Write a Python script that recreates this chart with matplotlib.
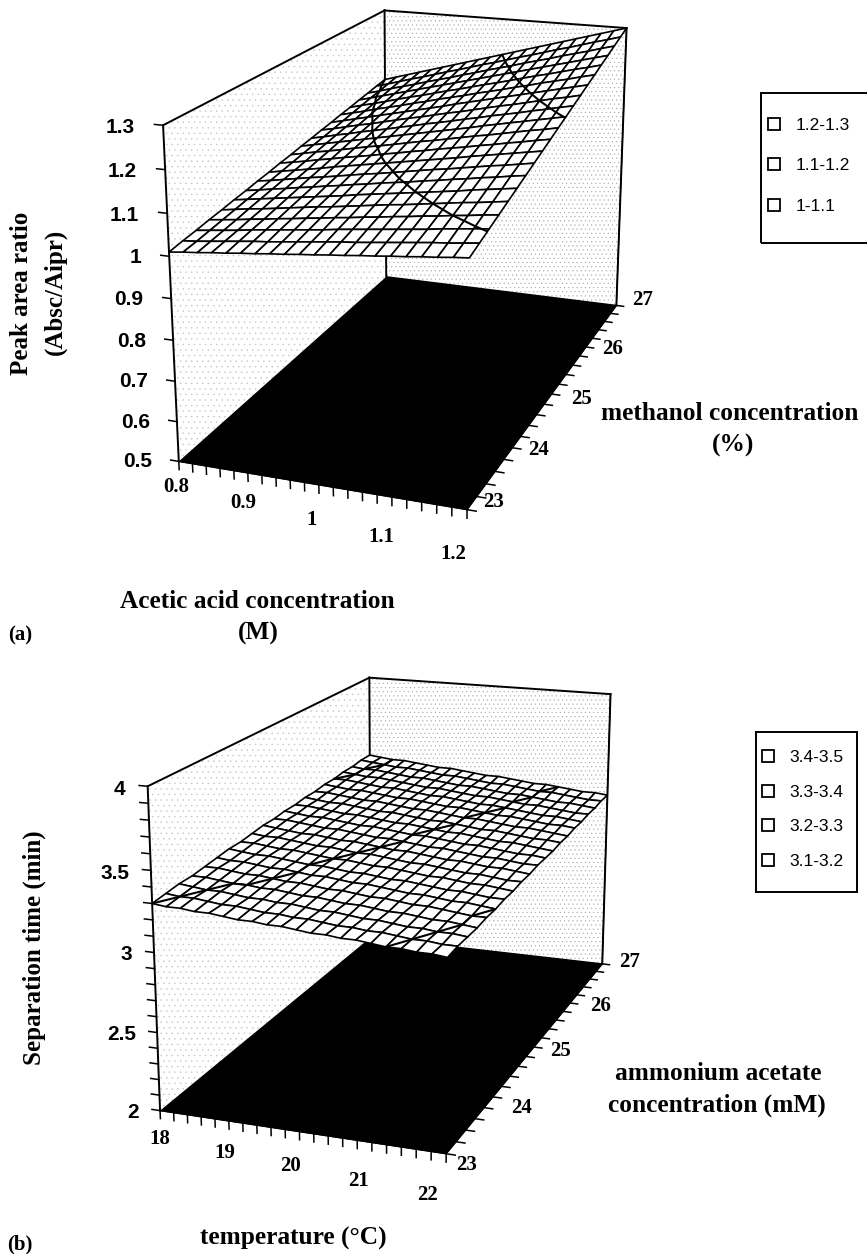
import numpy as np
import matplotlib
matplotlib.use('Agg')
import matplotlib.pyplot as plt
from matplotlib.axes import Axes
from matplotlib.lines import Line2D
from matplotlib.patches import Rectangle
from mpl_toolkits.mplot3d import proj3d

SANS = 'Liberation Sans'
SERIF = 'Liberation Serif'

# panel (a)
acid = np.round(np.arange(0.8, 1.2001, 0.02), 2)
methanol = np.round(np.arange(23, 27.001, 0.2), 1)
acid_labels = [0.8, 0.9, 1, 1.1, 1.2]
methanol_labels = [23, 24, 25, 26, 27]
ratio_labels = [0.5, 0.6, 0.7, 0.8, 0.9, 1, 1.1, 1.2, 1.3]
ratio_levels = [1.1, 1.2]
ratio_legend = ['1.2-1.3', '1.1-1.2', '1-1.1']
ratio = [
    [1.010,1.014,1.017,1.021,1.024,1.028,1.031,1.035,1.038,1.042,1.045,1.049,1.052,1.056,1.059,1.063,1.066,1.070,1.073,1.077,1.080],
    [1.015,1.018,1.022,1.026,1.030,1.034,1.037,1.041,1.045,1.049,1.053,1.057,1.060,1.064,1.068,1.072,1.076,1.080,1.083,1.087,1.091],
    [1.019,1.023,1.027,1.031,1.036,1.040,1.044,1.048,1.052,1.056,1.061,1.065,1.069,1.073,1.077,1.081,1.085,1.090,1.094,1.098,1.102],
    [1.024,1.028,1.032,1.037,1.041,1.046,1.050,1.055,1.059,1.064,1.068,1.073,1.077,1.082,1.086,1.091,1.095,1.100,1.104,1.109,1.113],
    [1.028,1.033,1.038,1.042,1.047,1.052,1.057,1.062,1.066,1.071,1.076,1.081,1.086,1.090,1.095,1.100,1.105,1.110,1.114,1.119,1.124],
    [1.033,1.038,1.043,1.048,1.053,1.058,1.063,1.068,1.073,1.079,1.084,1.089,1.094,1.099,1.104,1.109,1.114,1.120,1.125,1.130,1.135],
    [1.037,1.042,1.048,1.053,1.059,1.064,1.070,1.075,1.081,1.086,1.092,1.097,1.102,1.108,1.113,1.119,1.124,1.130,1.135,1.141,1.146],
    [1.042,1.047,1.053,1.059,1.065,1.070,1.076,1.082,1.088,1.093,1.099,1.105,1.111,1.117,1.122,1.128,1.134,1.140,1.145,1.151,1.157],
    [1.046,1.052,1.058,1.064,1.070,1.077,1.083,1.089,1.095,1.101,1.107,1.113,1.119,1.125,1.131,1.138,1.144,1.150,1.156,1.162,1.168],
    [1.051,1.057,1.063,1.070,1.076,1.083,1.089,1.095,1.102,1.108,1.115,1.121,1.128,1.134,1.140,1.147,1.153,1.160,1.166,1.173,1.179],
    [1.055,1.062,1.069,1.075,1.082,1.089,1.096,1.102,1.109,1.116,1.123,1.129,1.136,1.143,1.150,1.156,1.163,1.170,1.177,1.183,1.190],
    [1.060,1.067,1.074,1.081,1.088,1.095,1.102,1.109,1.116,1.123,1.130,1.137,1.144,1.151,1.159,1.166,1.173,1.180,1.187,1.194,1.201],
    [1.064,1.071,1.079,1.086,1.094,1.101,1.108,1.116,1.123,1.131,1.138,1.145,1.153,1.160,1.168,1.175,1.182,1.190,1.197,1.205,1.212],
    [1.069,1.076,1.084,1.092,1.099,1.107,1.115,1.123,1.130,1.138,1.146,1.153,1.161,1.169,1.177,1.184,1.192,1.200,1.208,1.215,1.223],
    [1.073,1.081,1.089,1.097,1.105,1.113,1.121,1.129,1.137,1.145,1.154,1.162,1.170,1.178,1.186,1.194,1.202,1.210,1.218,1.226,1.234],
    [1.078,1.086,1.094,1.103,1.111,1.119,1.128,1.136,1.145,1.153,1.161,1.170,1.178,1.186,1.195,1.203,1.212,1.220,1.228,1.237,1.245],
    [1.082,1.091,1.099,1.108,1.117,1.126,1.134,1.143,1.152,1.160,1.169,1.178,1.186,1.195,1.204,1.213,1.221,1.230,1.239,1.247,1.256],
    [1.087,1.096,1.105,1.114,1.123,1.132,1.141,1.150,1.159,1.168,1.177,1.186,1.195,1.204,1.213,1.222,1.231,1.240,1.249,1.258,1.267],
    [1.091,1.100,1.110,1.119,1.128,1.138,1.147,1.156,1.166,1.175,1.185,1.194,1.203,1.213,1.222,1.231,1.241,1.250,1.259,1.269,1.278],
    [1.096,1.105,1.115,1.125,1.134,1.144,1.154,1.163,1.173,1.183,1.192,1.202,1.212,1.221,1.231,1.241,1.250,1.260,1.270,1.279,1.289],
    [1.100,1.110,1.120,1.130,1.140,1.150,1.160,1.170,1.180,1.190,1.200,1.210,1.220,1.230,1.240,1.250,1.260,1.270,1.280,1.290,1.300],
]

# panel (b)
temperature = np.round(np.arange(18, 22.001, 0.2), 1)
ammonium = np.round(np.arange(23, 27.001, 0.2), 1)
temperature_labels = [18, 19, 20, 21, 22]
ammonium_labels = [23, 24, 25, 26, 27]
time_labels = [2, 2.5, 3, 3.5, 4]
time_levels = [3.2, 3.3, 3.4]
time_legend = ['3.4-3.5', '3.3-3.4', '3.2-3.3', '3.1-3.2']
sep_time = [
    [3.30,3.29,3.29,3.28,3.28,3.27,3.26,3.26,3.25,3.25,3.24,3.23,3.23,3.22,3.22,3.21,3.20,3.20,3.19,3.19,3.18],
    [3.31,3.30,3.30,3.29,3.28,3.28,3.27,3.26,3.26,3.25,3.25,3.24,3.23,3.23,3.22,3.22,3.21,3.20,3.20,3.19,3.19],
    [3.32,3.31,3.30,3.30,3.29,3.28,3.28,3.27,3.27,3.26,3.25,3.25,3.24,3.23,3.23,3.22,3.21,3.21,3.20,3.20,3.19],
    [3.32,3.32,3.31,3.30,3.30,3.29,3.29,3.28,3.27,3.27,3.26,3.25,3.25,3.24,3.23,3.23,3.22,3.21,3.21,3.20,3.19],
    [3.33,3.33,3.32,3.31,3.31,3.30,3.29,3.29,3.28,3.27,3.27,3.26,3.25,3.25,3.24,3.23,3.23,3.22,3.21,3.20,3.20],
    [3.34,3.33,3.33,3.32,3.31,3.31,3.30,3.29,3.29,3.28,3.27,3.27,3.26,3.25,3.24,3.24,3.23,3.22,3.22,3.21,3.20],
    [3.35,3.34,3.33,3.33,3.32,3.31,3.30,3.30,3.29,3.28,3.28,3.27,3.26,3.26,3.25,3.24,3.23,3.23,3.22,3.21,3.21],
    [3.35,3.35,3.34,3.33,3.33,3.32,3.31,3.30,3.30,3.29,3.28,3.28,3.27,3.26,3.25,3.25,3.24,3.23,3.23,3.22,3.21],
    [3.36,3.35,3.35,3.34,3.33,3.32,3.32,3.31,3.30,3.30,3.29,3.28,3.27,3.27,3.26,3.25,3.24,3.24,3.23,3.22,3.22],
    [3.37,3.36,3.35,3.34,3.34,3.33,3.32,3.32,3.31,3.30,3.29,3.29,3.28,3.27,3.26,3.26,3.25,3.24,3.24,3.23,3.22],
    [3.37,3.37,3.36,3.35,3.34,3.34,3.33,3.32,3.31,3.31,3.30,3.29,3.28,3.28,3.27,3.26,3.25,3.25,3.24,3.23,3.23],
    [3.38,3.37,3.36,3.36,3.35,3.34,3.33,3.33,3.32,3.31,3.30,3.30,3.29,3.28,3.27,3.27,3.26,3.25,3.24,3.24,3.23],
    [3.38,3.38,3.37,3.36,3.35,3.35,3.34,3.33,3.32,3.32,3.31,3.30,3.29,3.29,3.28,3.27,3.26,3.26,3.25,3.24,3.23],
    [3.39,3.38,3.37,3.37,3.36,3.35,3.34,3.34,3.33,3.32,3.31,3.31,3.30,3.29,3.28,3.28,3.27,3.26,3.25,3.25,3.24],
    [3.39,3.39,3.38,3.37,3.36,3.36,3.35,3.34,3.33,3.33,3.32,3.31,3.30,3.30,3.29,3.28,3.27,3.27,3.26,3.25,3.24],
    [3.40,3.39,3.38,3.38,3.37,3.36,3.35,3.35,3.34,3.33,3.32,3.32,3.31,3.30,3.29,3.29,3.28,3.27,3.26,3.26,3.25],
    [3.40,3.40,3.39,3.38,3.37,3.37,3.36,3.35,3.34,3.34,3.33,3.32,3.31,3.31,3.30,3.29,3.28,3.27,3.27,3.26,3.25],
    [3.41,3.40,3.39,3.39,3.38,3.37,3.36,3.35,3.35,3.34,3.33,3.32,3.32,3.31,3.30,3.29,3.29,3.28,3.27,3.26,3.26],
    [3.41,3.40,3.40,3.39,3.38,3.37,3.37,3.36,3.35,3.34,3.34,3.33,3.32,3.31,3.31,3.30,3.29,3.28,3.28,3.27,3.26],
    [3.42,3.41,3.40,3.39,3.39,3.38,3.37,3.36,3.36,3.35,3.34,3.33,3.33,3.32,3.31,3.30,3.30,3.29,3.28,3.27,3.27],
    [3.42,3.41,3.40,3.40,3.39,3.38,3.37,3.37,3.36,3.35,3.34,3.34,3.33,3.32,3.31,3.31,3.30,3.29,3.28,3.28,3.27],
]

W, H = 867, 1254
plt.rcParams['hatch.linewidth'] = 0.3
fig = plt.figure(figsize=(W / 100, H / 100), dpi=100)


def panel(left, top, size, elev, azim, focal, aspect, x, y, z, levels, zlim, zstep,
          xlabels, ylabels, zlabels, xoff, ydx, ydz, zoff):
    ax = fig.add_axes([left / W, 1 - (top + size) / H, size / W, size / H],
                      projection='3d', computed_zorder=False)
    ax.patch.set_visible(False)
    ax.view_init(elev=elev, azim=azim)
    ax.set_proj_type('persp', focal_length=focal)
    ax.set_box_aspect(aspect)
    ax.set_xlim(x[0], x[-1], view_margin=0)
    ax.set_ylim(y[0], y[-1], view_margin=0)
    ax.set_zlim(zlim[0], zlim[1], view_margin=0)
    ax.grid(False)

    # walls and floor
    for axis, hatch, col in ((ax.xaxis, '...', '#c4c4c4'), (ax.yaxis, '....', '#a8a8a8')):
        axis.set_pane_color((1, 1, 1, 1))
        axis.pane.set_edgecolor(col)
        axis.pane.set_linewidth(0)
        axis.pane.set_hatch(hatch)
    ax.zaxis.set_pane_color((0, 0, 0, 1))

    # axes ticks are drawn by hand, mplot3d cannot point them the right way
    ax.set_xticks([])
    ax.set_yticks([])
    ax.set_zticks([])
    for axis in (ax.xaxis, ax.yaxis, ax.zaxis):
        axis._axinfo['axisline']['linewidth'] = 1.4
        axis.line.set_color('k')

    x0, x1, y0, y1 = x[0], x[-1], y[0], y[-1]
    zb, zt = zlim
    xr, zr = x1 - x0, zt - zb
    tick = dict(color='k', lw=1.1, zorder=1)
    for v in x:
        ax.plot([v, v], [y0, y0], [zb, zb - 0.026 * zr], **tick)
    for v in y:
        ax.plot([x1, x1 + 0.03 * xr], [v, v], [zb, zb], **tick)
    for v in np.arange(zlim[0], zlim[1] + 1e-6, zstep):
        ax.plot([x0, x0 - 0.03 * xr], [y0, y0], [v, v], **tick)

    # wall outlines
    for xs, ys, zs in (([x0, x0], [y0, y1], [zt, zt]),
                       ([x0, x1], [y1, y1], [zt, zt]),
                       ([x0, x0], [y1, y1], [zb, zt]),
                       ([x1, x1], [y1, y1], [zb, zt]),
                       ([x0, x0], [y0, y0], [zb, zt])):
        ax.plot(xs, ys, zs, color='k', lw=1.4, zorder=1)

    X, Y = np.meshgrid(x, y)
    Z = np.array(z)
    ax.plot_surface(X, Y, Z, rstride=1, cstride=1, color='w', edgecolor='k',
                    linewidth=1.2, shade=False, zorder=2)
    cs = ax.contour(X, Y, Z, levels=levels, colors='k', linewidths=1.5)
    cs.set_zorder(3)

    # tick labels as plain 2D text at the projected spot
    M = ax.get_proj()

    def label(px, py, pz, s, **kw):
        tx, ty, _ = proj3d.proj_transform(px, py, pz, M)
        Axes.text(ax, tx, ty, s, weight='bold', fontsize=15, va='center', zorder=6, **kw)

    # the offset grows along the x axis as in the original chart
    for v in xlabels:
        u = (v - x0) / xr
        label(v + (xoff[2] + (xoff[3] - xoff[2]) * u) * xr, y0,
              zb - (xoff[0] + (xoff[1] - xoff[0]) * u) * zr, f'{v:g}', family=SERIF, ha='center')
    for v, dx, dz in zip(ylabels, ydx, ydz):
        label(x1 + dx * xr, v, zb + dz * zr, f'{v:g}', family=SERIF, ha='center')
    for v in zlabels:
        label(x0 - zoff[0] * xr, y0, v + zoff[1] * zr, f'{v:g}', family=SANS, ha='right')
    return ax


panel(81, -94, 661, 18.3, -70, 0.5, (280, 532, 320), acid, methanol, ratio, ratio_levels,
      (0.5, 1.3), 0.1, acid_labels, methanol_labels, ratio_labels,
      (0.083, 0.143, -0.015, -0.043),
      (0.085, 0.09, 0.11, 0.105, 0.105), (0.037, 0.004, -0.003, 0.005, 0.034), (0.10, -0.015))
panel(62, 563, 664, 16.7, -70, 0.55, (279, 545, 308), temperature, ammonium, sep_time, time_levels,
      (2, 4), 0.1, temperature_labels, ammonium_labels, time_labels,
      (0.093, 0.138, -0.005, -0.062),
      (0.068, 0.099, 0.099, 0.12, 0.11), (-0.025, -0.023, -0.0025, 0.003, 0.02), (0.078, -0.015))


def txt(px, py, s, size=18.3, rot=0, family=SERIF):
    fig.text(px / W, 1 - py / H, s, family=family, weight='bold', fontsize=size,
             rotation=rot, ha='center', va='center')


txt(22, 293, 'Peak area ratio', size=18, rot=90)
txt(55, 292, '(Absc/Aipr)', size=18, rot=90)
txt(257, 602, 'Acetic acid concentration')
txt(258, 633, '(M)')
txt(20, 635, '(a)', size=15)
txt(730, 413, 'methanol concentration')
txt(733, 445, '(%)')
txt(34, 948, 'Separation time (min)', size=18, rot=90)
txt(718, 1074, 'ammonium acetate')
txt(717, 1105, 'concentration (mM)')
txt(293, 1238, 'temperature (°C)')
txt(20, 1244, '(b)', size=15)


def legend(names, box, square_x, first_y, spacing):
    x0, x1, top, bottom = box
    fig.add_artist(Rectangle((x0 / W, 1 - bottom / H), (x1 - x0) / W, (bottom - top) / H,
                             transform=fig.transFigure, fill=False, edgecolor='k', lw=1.4))
    handles = [Line2D([], [], marker='s', ls='none', mfc='w', mec='k', ms=8.5, mew=1.3) for _ in names]
    fig.legend(handles, names, loc='upper left', borderaxespad=0, frameon=False,
               bbox_to_anchor=((square_x - 9) / W, 1 - (first_y - 7) / H),
               handlelength=1.0, labelspacing=spacing, borderpad=0, handletextpad=0.75,
               prop={'family': SANS, 'size': 12.5})


legend(ratio_legend, (761, 875, 93, 243), 774, 125, 1.45)
legend(time_legend, (756, 857, 732, 892), 768, 757, 1.12)

fig.savefig('out.png', dpi=100)
